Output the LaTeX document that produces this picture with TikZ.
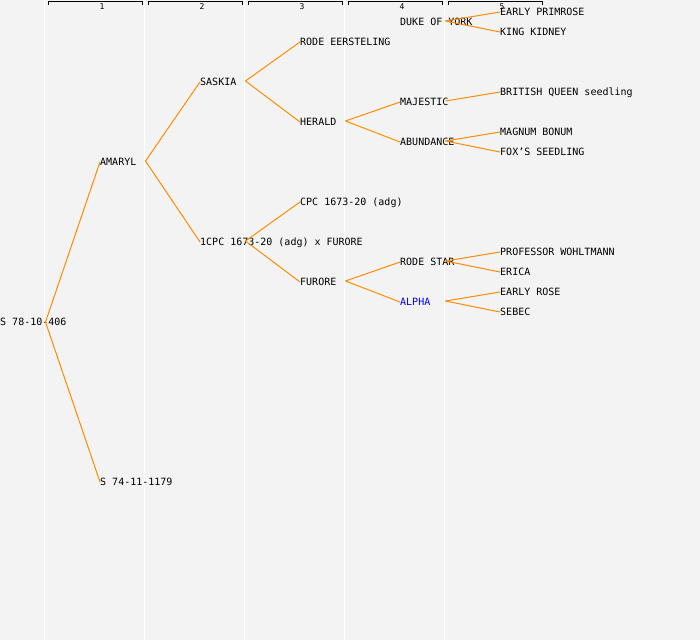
\documentclass[tikz,border=0pt]{standalone}
\usepackage{fontspec}
\setmonofont{DejaVu Sans Mono}
\definecolor{bgc}{HTML}{F3F3F3}
\definecolor{linkc}{HTML}{FF8C00}
\definecolor{alphac}{HTML}{0000FF}
\begin{document}
\begin{tikzpicture}[x=1pt,y=-1pt,
  lbl/.style={anchor=west,inner sep=0pt,font=\ttfamily\fontsize{10}{12}\selectfont,text height=7.3pt,text depth=0pt},
  hdr/.style={inner sep=0pt,font=\ttfamily\fontsize{8}{9}\selectfont},
  link/.style={draw=linkc,line width=1pt},
  colline/.style={draw=white,line width=1.2pt},
  bracket/.style={draw=black,line width=1pt}]
\fill[bgc] (0,0) rectangle (700,640);
\useasboundingbox (0,0) rectangle (700,640);
% column separators
\foreach \x in {44.5,144.5,244.5,344.5,444.5}
  \draw[colline] (\x,0) -- (\x,640);
% header brackets
\foreach \k in {1,...,5} {
  \draw[bracket] ({100*\k-52},4.5) -- ({100*\k-52},1.5) -- ({100*\k+42},1.5) -- ({100*\k+42},4.5);
  \node[hdr] (h\k) at ({100*\k+2},6.5) {\k};
}
% generation 0
\node[lbl] (s78) at (0,322) {S 78-10-406};
% generation 1
\node[lbl] (amaryl) at (100,162) {AMARYL};
\node[lbl] (s74) at (100,482) {S 74-11-1179};
% generation 2
\node[lbl] (saskia) at (200,82) {SASKIA};
\node[lbl] (cpcx) at (200,242) {1CPC 1673-20 (adg) x FURORE};
% generation 3
\node[lbl] (rode) at (300,42) {RODE EERSTELING};
\node[lbl] (herald) at (300,122) {HERALD};
\node[lbl] (cpc) at (300,202) {CPC 1673-20 (adg)};
\node[lbl] (furore) at (300,282) {FURORE};
% generation 4
\node[lbl] (duke) at (400,22) {DUKE OF YORK};
\node[lbl] (majestic) at (400,102) {MAJESTIC};
\node[lbl] (abundance) at (400,142) {ABUNDANCE};
\node[lbl] (rodestar) at (400,262) {RODE STAR};
\node[lbl,text=alphac] (alpha) at (400,302) {ALPHA};
% generation 5
\node[lbl] (primrose) at (500,12) {EARLY PRIMROSE};
\node[lbl] (kidney) at (500,32) {KING KIDNEY};
\node[lbl] (british) at (500,92) {BRITISH QUEEN seedling};
\node[lbl] (magnum) at (500,132) {MAGNUM BONUM};
\node[lbl] (fox) at (500,152) {FOX’S SEEDLING};
\node[lbl] (professor) at (500,252) {PROFESSOR WOHLTMANN};
\node[lbl] (erica) at (500,272) {ERICA};
\node[lbl] (earlyrose) at (500,292) {EARLY ROSE};
\node[lbl] (sebec) at (500,312) {SEBEC};
% junction points
\coordinate (j0) at (45.5,322);
\coordinate (j1) at (145.5,161);
\coordinate (j2) at (245.5,81);
\coordinate (j3) at (245.5,241);
\coordinate (j4) at (345.5,121);
\coordinate (j5) at (345.5,281);
\coordinate (j6) at (445.5,21);
\coordinate (j7) at (445.5,101);
\coordinate (j8) at (445.5,141);
\coordinate (j9) at (445.5,261);
\coordinate (j10) at (445.5,301);
% connectors
\draw[link] (j0) -- (amaryl.west);
\draw[link] (j0) -- (s74.west);
\draw[link] (j1) -- (saskia.west);
\draw[link] (j1) -- (cpcx.west);
\draw[link] (j2) -- (rode.west);
\draw[link] (j2) -- (herald.west);
\draw[link] (j3) -- (cpc.west);
\draw[link] (j3) -- (furore.west);
\draw[link] (j4) -- (majestic.west);
\draw[link] (j4) -- (abundance.west);
\draw[link] (j5) -- (rodestar.west);
\draw[link] (j5) -- (alpha.west);
\draw[link] (j6) -- (primrose.west);
\draw[link] (j6) -- (kidney.west);
\draw[link] (j7) -- (british.west);
\draw[link] (j8) -- (magnum.west);
\draw[link] (j8) -- (fox.west);
\draw[link] (j9) -- (professor.west);
\draw[link] (j9) -- (erica.west);
\draw[link] (j10) -- (earlyrose.west);
\draw[link] (j10) -- (sebec.west);
\end{tikzpicture}
\end{document}
